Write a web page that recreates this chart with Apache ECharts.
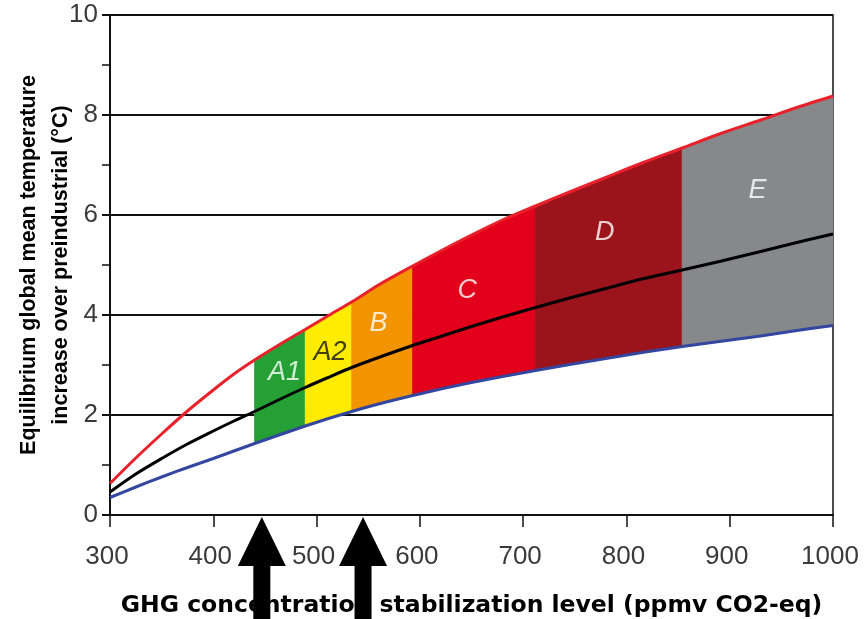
<!DOCTYPE html>
<html>
<head>
<meta charset="utf-8">
<script src="https://cdn.jsdelivr.net/npm/echarts@6/dist/echarts.min.js"></script>
<style>
html,body{margin:0;padding:0;background:#fff;}
#chart{width:864px;height:619px;}
</style>
</head>
<body>
<div id="chart"></div>
<script>
// GHG concentration (ppmv CO2-eq)
const xs        = [300, 325, 350, 375, 400, 420, 440, 465, 489, 510, 534, 560, 593, 620, 650, 680, 712, 745, 780, 815, 854, 890, 930, 965, 1000];
// upper (red), best estimate (black), lower (blue) equilibrium warming (°C)
const redVals   = [0.63, 1.14, 1.62, 2.08, 2.50, 2.82, 3.10, 3.42, 3.71, 3.97, 4.26, 4.60, 4.98, 5.28, 5.60, 5.90, 6.18, 6.46, 6.75, 7.04, 7.34, 7.62, 7.90, 8.15, 8.38];
const blackVals = [0.46, 0.82, 1.13, 1.42, 1.68, 1.88, 2.07, 2.32, 2.55, 2.74, 2.95, 3.15, 3.39, 3.57, 3.77, 3.96, 4.15, 4.34, 4.53, 4.72, 4.90, 5.07, 5.27, 5.45, 5.62];
const blueVals  = [0.35, 0.56, 0.76, 0.95, 1.13, 1.28, 1.43, 1.61, 1.78, 1.92, 2.07, 2.22, 2.39, 2.52, 2.65, 2.77, 2.89, 3.01, 3.13, 3.25, 3.37, 3.47, 3.58, 3.69, 3.79];

// stabilization categories
const bandNames  = ['A1', 'A2', 'B', 'C', 'D', 'E'];
const bandStart  = [440, 489, 534, 593, 712, 854];
const bandEnd    = [489, 534, 593, 712, 854, 1000];
const bandLabelX = [469, 513, 560, 646, 779, 927];
const bandLabelY = [2.86, 3.26, 3.84, 4.50, 5.66, 6.50];

// arrows
const arrowX = [447, 545];

// tick labels
const xTickValues = [300, 400, 500, 600, 700, 800, 900, 1000];
const yTickValues = [0, 2, 4, 6, 8, 10];

const bandColors  = ['#24a035', '#ffec00', '#f29400', '#e2001a', '#9b141c', '#87888a'];
const labelColors = ['#ffffff', '#111111', '#ffffff', '#ffffff', '#ffffff', '#ffffff'];

const chart = echarts.init(document.getElementById('chart'), null, {renderer: 'canvas'});

const sansFont = '"Liberation Sans", Arial, sans-serif';

const option = {
  backgroundColor: '#ffffff',
  animation: false,
  grid: {left: 110, right: 31, top: 15, bottom: 104, containLabel: false, outerBoundsMode: 'none',
         show: true, borderColor: '#111', borderWidth: 1.5, backgroundColor: 'transparent'},
  xAxis: {
    type: 'value',
    min: xTickValues[0],
    max: xTickValues[xTickValues.length - 1],
    interval: xTickValues[1] - xTickValues[0],
    name: 'GHG concentration stabilization level (ppmv CO2-eq)',
    nameLocation: 'middle',
    nameGap: 79,
    nameMoveOverlap: false,
    nameTextStyle: {fontFamily: '"DejaVu Sans", sans-serif', fontWeight: 'bold', fontSize: 23.5, color: '#000'},
    axisLine: {show: true, lineStyle: {color: '#111', width: 2}},
    axisTick: {show: true, length: 12, lineStyle: {color: '#111', width: 1.5}},
    axisLabel: {margin: 29, fontFamily: sansFont, fontSize: 26, color: '#3a3a3a', padding: [0, 6, 0, 0],
                formatter: v => String(v)},
    splitLine: {show: false}
  },
  yAxis: {
    type: 'value',
    min: yTickValues[0],
    max: yTickValues[yTickValues.length - 1],
    interval: yTickValues[1] - yTickValues[0],
    name: 'Equilibrium global mean temperature\nincrease over preindustrial (°C)',
    nameLocation: 'middle',
    nameRotate: 90,
    nameGap: 33,
    nameMoveOverlap: false,
    nameTextStyle: {fontFamily: sansFont, fontWeight: 'bold', fontSize: 21.5, lineHeight: 32, color: '#000'},
    axisLine: {show: true, lineStyle: {color: '#111', width: 2}},
    axisTick: {show: true, length: 8, lineStyle: {color: '#111', width: 2}},
    minorTick: {show: true, splitNumber: 2, length: 8, lineStyle: {color: '#111', width: 1.5}},
    axisLabel: {margin: 12, fontFamily: sansFont, fontSize: 26, color: '#3a3a3a', padding: [6, 0, 0, 0],
                formatter: v => String(v)},
    splitLine: {show: true, lineStyle: {color: '#111', width: 2}}
  },
  series: [
    {
      type: 'custom',
      silent: true,
      encode: {x: [0, 1], y: 2},
      data: bandStart.map((s, i) => [s, bandEnd[i], i]),
      renderItem: function (params, api) {
        const s = api.value(0), e = api.value(1), i = api.value(2);
        const up = [], low = [];
        xs.forEach((x, k) => {
          if (x >= s && x <= e) {
            up.push(api.coord([x, redVals[k]]));
            low.push(api.coord([x, blueVals[k]]));
          }
        });
        return {
          type: 'polygon',
          shape: {points: up.concat(low.reverse())},
          style: {fill: bandColors[i], stroke: bandColors[i], lineWidth: 0.8}
        };
      },
      z: 2
    },
    {
      type: 'line', silent: true, showSymbol: false, z: 3, smooth: 0.3,
      data: xs.map((x, i) => [x, blueVals[i]]),
      lineStyle: {color: '#3346a0', width: 3}
    },
    {
      type: 'line', silent: true, showSymbol: false, z: 3, smooth: 0.3,
      data: xs.map((x, i) => [x, blackVals[i]]),
      lineStyle: {color: '#000000', width: 3}
    },
    {
      type: 'line', silent: true, showSymbol: false, z: 3, smooth: 0.3,
      data: xs.map((x, i) => [x, redVals[i]]),
      lineStyle: {color: '#e8212b', width: 3}
    },
    {
      type: 'scatter', silent: true, symbolSize: 0, z: 4,
      data: bandNames.map((n, i) => ({value: [bandLabelX[i], bandLabelY[i]], name: n, label: {color: labelColors[i]}})),
      label: {show: true, position: 'inside', formatter: '{b}', fontFamily: sansFont, fontStyle: 'italic', fontSize: 27}
    },
    {
      type: 'custom',
      silent: true,
      clip: false,
      z: 10,
      data: arrowX.map(x => [x, 0]),
      renderItem: function (params, api) {
        const p = api.coord([api.value(0), 0]);
        const x = p[0], y = p[1];
        const hw = 24, sw = 8.5;
        return {
          type: 'polygon',
          shape: {points: [
            [x, y + 2], [x + hw, y + 51], [x + sw, y + 51], [x + sw, y + 110],
            [x - sw, y + 110], [x - sw, y + 51], [x - hw, y + 51]
          ]},
          style: {fill: '#000'}
        };
      }
    }
  ]
};
chart.setOption(option);
</script>
</body>
</html>
